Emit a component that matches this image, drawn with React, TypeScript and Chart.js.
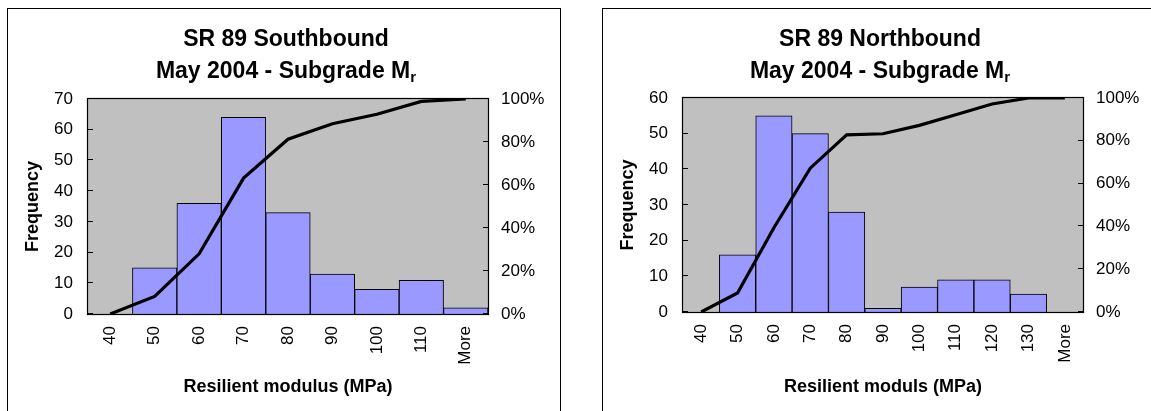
import React, { useEffect, useRef } from 'react';
import { Chart, registerables } from 'chart.js';

Chart.register(...registerables);

// ---- Data ----
const southCategories = ['40', '50', '60', '70', '80', '90', '100', '110', 'More'];
const southFrequency = [0, 15, 36, 64, 33, 13, 8, 11, 2];
const southCumulative = [0, 8.2, 28.0, 63.2, 81.3, 88.5, 92.9, 98.9, 100];

const northCategories = ['40', '50', '60', '70', '80', '90', '100', '110', '120', '130', 'More'];
const northFrequency = [0, 16, 55, 50, 28, 1, 7, 9, 9, 5, 0];
const northCumulative = [0, 8.9, 39.4, 67.2, 82.8, 83.3, 87.2, 92.2, 97.2, 100, 100];

const southTitle = ['SR 89 Southbound', 'May 2004 - Subgrade M', 'r'];
const northTitle = ['SR 89 Northbound', 'May 2004 - Subgrade M', 'r'];
const southXTitle = 'Resilient modulus (MPa)';
const northXTitle = 'Resilient moduls (MPa)';
const yTitle = 'Frequency';

const FONT = '"Liberation Sans", Arial, Helvetica, sans-serif';

type Cfg = {
  w: number;
  h: number;
  padTop: number;
  yWidth: number;
  y1Width: number;
  xHeight: number;
  yMax: number;
  title: string[];
  titleX: number;
  base1: number;
  base2: number;
  xTitle: string;
  categories: string[];
  freq: number[];
  cum: number[];
};

function excelPlugin(cfg: Cfg) {
  return {
    id: 'excelLook',
    beforeDraw(chart: any) {
      const { ctx, chartArea } = chart;
      ctx.save();
      ctx.fillStyle = '#C0C0C0';
      ctx.fillRect(chartArea.left, chartArea.top, chartArea.right - chartArea.left, chartArea.bottom - chartArea.top);
      ctx.restore();
    },
    afterDatasetsDraw(chart: any) {
      const { ctx, chartArea } = chart;
      const { left, right, top, bottom } = chartArea;
      ctx.save();
      ctx.strokeStyle = '#000';
      ctx.lineWidth = 1.2;
      ctx.strokeRect(left - 0.5, top - 0.5, right - left + 1, bottom - top + 1);
      // inside tick marks
      ctx.lineWidth = 1;
      const ys = chart.scales.y;
      ctx.beginPath();
      ys.ticks.forEach((t: any) => {
        const p = Math.round(ys.getPixelForValue(t.value)) - 0.5;
        ctx.moveTo(left, p);
        ctx.lineTo(left + 5, p);
      });
      const y1 = chart.scales.y1;
      y1.ticks.forEach((t: any) => {
        const p = Math.round(y1.getPixelForValue(t.value)) - 0.5;
        ctx.moveTo(right - 5, p);
        ctx.lineTo(right, p);
      });
      ctx.stroke();
      ctx.restore();
    },
    afterDraw(chart: any) {
      const { ctx } = chart;
      ctx.save();
      ctx.fillStyle = '#000';
      ctx.textBaseline = 'alphabetic';
      ctx.font = `bold 23px ${FONT}`;
      ctx.textAlign = 'center';
      ctx.fillText(cfg.title[0], cfg.titleX, cfg.base1);
      const w1 = ctx.measureText(cfg.title[1]).width;
      ctx.font = `bold 15px ${FONT}`;
      const w2 = ctx.measureText(cfg.title[2]).width;
      const start = cfg.titleX - (w1 + w2) / 2;
      ctx.textAlign = 'left';
      ctx.font = `bold 23px ${FONT}`;
      ctx.fillText(cfg.title[1], start, cfg.base2);
      ctx.font = `bold 15px ${FONT}`;
      ctx.fillText(cfg.title[2], start + w1, cfg.base2 + 4);
      ctx.restore();
    },
  };
}

function HistChart({ cfg }: { cfg: Cfg }) {
  const ref = useRef<HTMLCanvasElement>(null);
  useEffect(() => {
    const tickFont = { family: FONT, size: 17 };
    const titleFont = { family: FONT, size: 18, weight: 'bold' as const };
    const chart = new Chart(ref.current as HTMLCanvasElement, {
      type: 'bar',
      data: {
        labels: cfg.categories,
        datasets: [
          {
            type: 'line' as const,
            data: cfg.cum,
            yAxisID: 'y1',
            borderColor: '#000',
            borderWidth: 3.2,
            pointRadius: 0,
            fill: false,
            tension: 0,
            order: 1,
          } as any,
          {
            type: 'bar' as const,
            data: cfg.freq,
            yAxisID: 'y',
            backgroundColor: '#9999FF',
            borderColor: '#000',
            borderWidth: 1,
            barPercentage: 1,
            categoryPercentage: 1,
            order: 2,
          },
        ],
      },
      options: {
        animation: false,
        responsive: false,
        events: [],
        layout: { padding: { top: cfg.padTop, left: 0, right: 0, bottom: 0 } },
        plugins: {
          legend: { display: false },
          title: { display: false },
          tooltip: { enabled: false },
        },
        scales: {
          x: {
            grid: { display: false, drawTicks: false },
            border: { display: false },
            ticks: {
              font: tickFont,
              color: '#000',
              minRotation: 90,
              maxRotation: 90,
              autoSkip: false,
              padding: 12,
            },
            title: {
              display: true,
              text: cfg.xTitle,
              font: titleFont,
              color: '#000',
              padding: { top: 0, bottom: 13 },
            },
            afterFit: (s: any) => {
              s.height = cfg.xHeight;
            },
          },
          y: {
            position: 'left',
            min: 0,
            max: cfg.yMax,
            grid: { display: false, drawTicks: false },
            border: { display: false },
            ticks: { stepSize: 10, font: tickFont, color: '#000', padding: 15 },
            title: {
              display: true,
              text: yTitle,
              font: titleFont,
              color: '#000',
              padding: { top: 14, bottom: 0 },
            },
            afterFit: (s: any) => {
              s.width = cfg.yWidth;
            },
          },
          y1: {
            position: 'right',
            min: 0,
            max: 100,
            grid: { display: false, drawTicks: false },
            border: { display: false },
            ticks: {
              stepSize: 20,
              font: tickFont,
              color: '#000',
              padding: 13,
              callback: (v: any) => `${v}%`,
            },
            afterFit: (s: any) => {
              s.width = cfg.y1Width;
            },
          },
        },
      } as any,
      plugins: [excelPlugin(cfg)],
    });
    return () => chart.destroy();
  }, [cfg]);
  return (
    <canvas
      ref={ref}
      width={cfg.w}
      height={cfg.h}
      style={{ display: 'block', width: cfg.w, height: cfg.h }}
    />
  );
}

const southCfg: Cfg = {
  w: 552,
  h: 402,
  padTop: 90,
  yWidth: 80,
  y1Width: 72,
  xHeight: 97,
  yMax: 70,
  title: southTitle,
  titleX: 278,
  base1: 37,
  base2: 69,
  xTitle: southXTitle,
  categories: southCategories,
  freq: southFrequency,
  cum: southCumulative,
};

const northCfg: Cfg = {
  w: 548,
  h: 402,
  padTop: 89,
  yWidth: 80,
  y1Width: 68,
  xHeight: 99,
  yMax: 60,
  title: northTitle,
  titleX: 277,
  base1: 37,
  base2: 69,
  xTitle: northXTitle,
  categories: northCategories,
  freq: northFrequency,
  cum: northCumulative,
};

export default function App() {
  return (
    <div
      style={{
        position: 'fixed',
        left: 0,
        top: 0,
        width: 1151,
        height: 411,
        overflow: 'hidden',
        background: '#fff',
      }}
    >
      <div
        style={{
          position: 'absolute',
          left: 7,
          top: 8,
          width: 554,
          height: 420,
          border: '1px solid #000',
          boxSizing: 'border-box',
        }}
      >
        <HistChart cfg={southCfg} />
      </div>
      <div
        style={{
          position: 'absolute',
          left: 602,
          top: 8,
          width: 600,
          height: 420,
          border: '1px solid #000',
          boxSizing: 'border-box',
        }}
      >
        <HistChart cfg={northCfg} />
      </div>
    </div>
  );
}
